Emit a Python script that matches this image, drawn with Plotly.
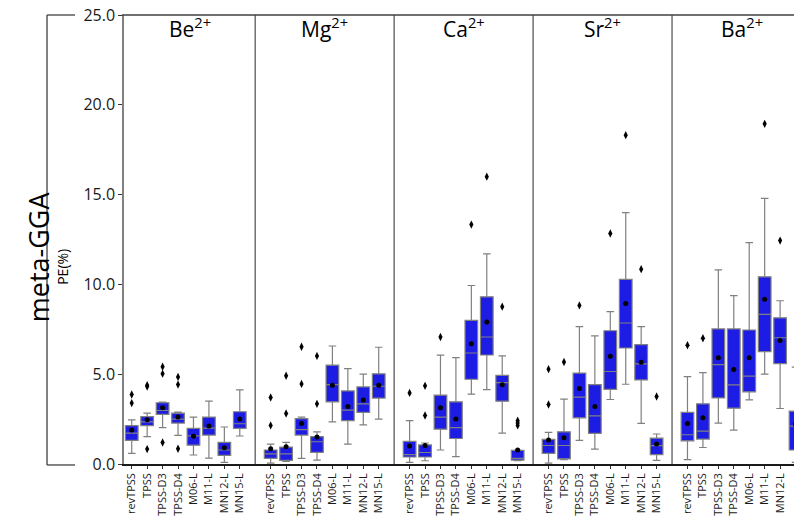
import plotly.graph_objects as go

# Percentage errors (PE, %) of meta-GGA functionals for alkaline-earth dications
ions = ["Be<sup>2+</sup>", "Mg<sup>2+</sup>", "Ca<sup>2+</sup>", "Sr<sup>2+</sup>", "Ba<sup>2+</sup>"]
methods = ["revTPSS", "TPSS", "TPSS-D3", "TPSS-D4", "M06-L", "M11-L", "MN12-L", "MN15-L"]

# box statistics, one row per ion, one column per method
lower = [
    [0.59, 1.52, 2.02, 1.59, 0.50, 0.33, 0.09, 1.56],
    [0.05, 0.15, 0.31, 0.22, 2.35, 1.11, 2.18, 2.50],
    [0.09, 0.18, 0.78, 0.41, 3.89, 4.14, 1.72, 0.18],
    [0.05, 0.24, 1.31, 0.83, 3.59, 4.44, 2.26, 0.20],
    [0.24, 0.92, 2.28, 1.89, 3.57, 5.00, 3.09, 0.09],
]
q1 = [
    [1.31, 2.14, 2.76, 2.28, 1.05, 1.61, 0.48, 1.98],
    [0.31, 0.20, 1.61, 0.65, 3.46, 2.41, 2.87, 3.67],
    [0.39, 0.39, 1.94, 1.42, 4.72, 6.07, 3.50, 0.22],
    [0.59, 0.29, 2.57, 1.70, 4.15, 6.46, 4.68, 0.52],
    [1.29, 1.39, 3.68, 3.11, 4.02, 6.26, 5.59, 0.78],
]
median = [
    [1.72, 2.35, 2.98, 2.50, 1.57, 2.00, 0.78, 2.24],
    [0.56, 0.56, 1.91, 1.24, 4.42, 3.00, 3.35, 4.33],
    [0.52, 0.64, 2.61, 2.02, 6.18, 7.07, 4.53, 0.31],
    [1.03, 1.03, 3.72, 2.68, 5.15, 7.85, 5.57, 1.02],
    [1.63, 1.83, 5.53, 4.41, 4.89, 8.33, 7.03, 2.11],
]
q3 = [
    [2.14, 2.64, 3.41, 2.83, 1.98, 2.61, 1.20, 2.91],
    [0.78, 0.94, 2.53, 1.52, 5.50, 4.07, 4.29, 5.02],
    [1.26, 1.06, 3.83, 3.46, 8.00, 9.31, 4.94, 0.76],
    [1.37, 1.79, 5.06, 4.42, 7.42, 10.28, 6.65, 1.44],
    [2.87, 3.35, 7.52, 7.52, 7.46, 10.42, 8.14, 2.94],
]
upper = [
    [2.46, 2.83, 3.45, 2.89, 2.61, 3.50, 2.06, 4.13],
    [1.11, 1.20, 2.61, 1.79, 6.57, 5.31, 5.00, 6.50],
    [2.42, 1.17, 6.06, 5.92, 9.94, 11.70, 6.02, 0.78],
    [1.76, 3.61, 7.65, 7.13, 8.48, 14.00, 7.65, 1.67],
    [4.87, 5.09, 10.81, 9.37, 12.33, 14.79, 9.09, 5.39],
]
mean = [
    [1.89, 2.46, 3.13, 2.61, 1.55, 2.11, 0.91, 2.50],
    [0.85, 0.96, 2.26, 1.50, 4.39, 3.20, 3.56, 4.39],
    [1.00, 1.03, 3.13, 2.50, 6.70, 7.91, 4.41, 0.78],
    [1.33, 1.46, 4.20, 3.20, 6.00, 8.94, 5.67, 1.11],
    [2.26, 2.57, 5.91, 5.26, 5.91, 9.18, 6.87, 2.20],
]
outliers = [
    [[3.87, 3.39], [4.39, 4.31, 0.83], [5.42, 5.03, 1.20], [4.85, 4.42, 0.85], [], [], [], []],
    [[3.70, 2.15], [4.91, 2.81], [6.53, 4.46], [6.02, 3.35], [], [], [], []],
    [[3.96], [4.35, 2.70], [7.07], [], [13.33], [16.00], [8.76], [2.41, 2.28, 2.15]],
    [[5.28, 3.31], [5.68], [8.83], [], [12.83], [18.31], [10.85], [3.76]],
    [[6.61], [7.00], [], [], [], [18.94], [12.44], []],
]
y_ticks = [0, 5, 10, 15, 20, 25]

FONT = "Open Sans, Lato, DejaVu Sans, sans-serif"
STEP = len(methods) + 1  # one empty slot between ion groups

pos, names = [], []
for g in range(len(ions)):
    for i, m in enumerate(methods):
        pos.append(g * STEP + i)
        names.append(m)


def flat(rows):
    return [v for row in rows for v in row]


fig = go.Figure()

fig.add_trace(go.Box(
    x=pos,
    lowerfence=flat(lower), q1=flat(q1), median=flat(median),
    q3=flat(q3), upperfence=flat(upper),
    fillcolor="rgb(28,28,228)",
    line=dict(color="#808080", width=1.2),
    width=0.82, whiskerwidth=0.6,
    boxpoints=False, hoverinfo="skip", showlegend=False,
))

# means as black dots
fig.add_trace(go.Scatter(
    x=pos, y=flat(mean), mode="markers",
    marker=dict(color="black", size=5, symbol="circle"),
    hoverinfo="skip", showlegend=False,
))

# fliers as thin diamonds
fx, fy = [], []
for g, row in enumerate(outliers):
    for i, vals in enumerate(row):
        for v in vals:
            fx.append(g * STEP + i)
            fy.append(v)
fig.add_trace(go.Scatter(
    x=fx, y=fy, mode="markers",
    marker=dict(color="black", size=6, symbol="diamond-tall"),
    hoverinfo="skip", showlegend=False,
))

shapes = []
# separators between ion panels
for g in range(1, len(ions)):
    xs = g * STEP - 1
    shapes.append(dict(type="line", xref="x", yref="paper", x0=xs, x1=xs, y0=0, y1=1,
                       line=dict(color="#707070", width=1.5)))
# top border of the plot area
shapes.append(dict(type="line", xref="paper", yref="paper", x0=-0.003, x1=1, y0=1, y1=1,
                   line=dict(color="#404040", width=1.3)))
# outer frame around the row label
frame = dict(color="#404040", width=1.3)
shapes.append(dict(type="line", xref="paper", yref="paper", x0=-0.1149, x1=-0.1149,
                   y0=-0.0022, y1=1, line=frame))
shapes.append(dict(type="line", xref="paper", yref="paper", x0=-0.1149, x1=-0.0731,
                   y0=1, y1=1, line=frame))
shapes.append(dict(type="line", xref="paper", yref="paper", x0=-0.1149, x1=-0.0731,
                   y0=-0.0022, y1=-0.0022, line=frame))

annotations = []
centers = [3.75] + [g * STEP + 3.5 for g in range(1, len(ions))]
for c, ion in zip(centers, ions):
    annotations.append(dict(x=c, y=24.3, xref="x", yref="y", text=ion, showarrow=False,
                            xanchor="center", yanchor="middle",
                            font=dict(family=FONT, size=21, color="black")))
annotations.append(dict(x=-0.128, y=0.461, xref="paper", yref="paper", text="meta-GGA",
                        textangle=-90, showarrow=False, xanchor="center", yanchor="middle",
                        font=dict(family=FONT, size=27, color="black")))
annotations.append(dict(x=-0.092, y=0.44, xref="paper", yref="paper", text="PE(%)",
                        textangle=-90, showarrow=False, xanchor="center", yanchor="middle",
                        font=dict(family=FONT, size=14, color="black")))

fig.update_layout(
    width=794, height=516,
    margin=dict(l=124, r=0, t=15, b=52),
    paper_bgcolor="white", plot_bgcolor="white",
    shapes=shapes, annotations=annotations,
    xaxis=dict(
        range=[-0.5, 42.9], tickmode="array", tickvals=pos, ticktext=names,
        tickangle=-90, tickfont=dict(family=FONT, size=11, color="#1a1a1a"),
        ticks="outside", ticklen=3, tickcolor="#333",
        showline=True, linecolor="#1a1a1a", linewidth=1.5,
        showgrid=False, zeroline=False, automargin=False,
    ),
    yaxis=dict(
        range=[0, 25], tickmode="array", tickvals=y_ticks,
        ticktext=[f"{t:.1f}" for t in y_ticks],
        tickfont=dict(family=FONT, size=16, color="#1a1a1a"),
        ticks="outside", ticklen=4, tickcolor="#333",
        showline=True, linecolor="#808080", linewidth=1.5,
        showgrid=False, zeroline=False, automargin=False,
    ),
)

fig.write_html("out.html")
